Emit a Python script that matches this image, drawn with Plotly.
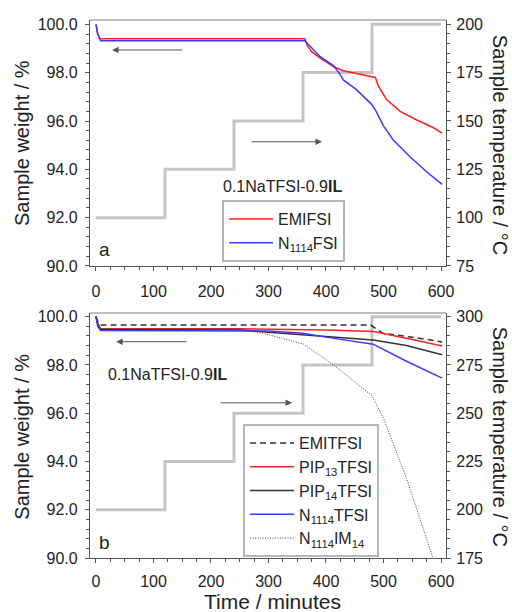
import plotly.graph_objects as go

FONT = "Liberation Sans, Arial, sans-serif"

# ---- data: panel a ----
t_temp = [0, 120, 240, 360, 480, 600]
temp_a = [100, 125, 150, 175, 200, 200]
temp_b = [200, 225, 250, 275, 300, 300]

t_emifsi = [0, 3, 7, 363, 368, 375, 390, 413, 430, 459, 481, 486, 491, 505, 529, 558, 587, 602]
w_emifsi = [100.0, 99.6, 99.4, 99.4, 99.1, 98.87, 98.6, 98.25, 98.08, 97.94, 97.83, 97.8, 97.45, 96.9, 96.4, 96.04, 95.72, 95.5]

t_n1114fsi = [0, 3, 8, 363, 390, 413, 424, 430, 453, 479, 486, 500, 517, 546, 575, 602]
w_n1114fsi = [100.0, 99.6, 99.32, 99.32, 98.66, 98.29, 97.95, 97.7, 97.3, 96.7, 96.45, 95.8, 95.21, 94.52, 93.9, 93.38]

# ---- data: panel b ----
t_emitfsi = [0, 3, 7, 478, 490, 500, 550, 602]
w_emitfsi = [100.0, 99.8, 99.65, 99.65, 99.45, 99.3, 99.15, 98.95]

t_pip13 = [0, 3, 8, 250, 400, 482, 540, 602]
w_pip13 = [100.0, 99.7, 99.5, 99.5, 99.45, 99.38, 99.1, 98.78]

t_pip14 = [0, 3, 8, 250, 300, 360, 400, 482, 540, 602]
w_pip14 = [100.0, 99.7, 99.47, 99.45, 99.35, 99.24, 99.15, 99.03, 98.8, 98.42]

t_n1114tfsi = [0, 3, 8, 250, 300, 360, 400, 482, 540, 602]
w_n1114tfsi = [100.0, 99.6, 99.42, 99.42, 99.4, 99.31, 99.15, 98.86, 98.15, 97.45]

t_n1114im14 = [0, 3, 8, 250, 297, 361, 413, 480, 500, 540, 586, 600]
w_n1114im14 = [100.0, 99.7, 99.5, 99.5, 99.27, 98.86, 98.0, 96.72, 95.79, 93.3, 90.0, 89.2]

GRAY_T = "#c4c4c4"
fig = go.Figure()

# temperature (base axes, drawn below)
fig.add_trace(go.Scatter(x=t_temp, y=temp_a, xaxis="x", yaxis="y", mode="lines",
                         line=dict(color=GRAY_T, width=3, shape="hv"), showlegend=False))
fig.add_trace(go.Scatter(x=t_temp, y=temp_b, xaxis="x2", yaxis="y3", mode="lines",
                         line=dict(color=GRAY_T, width=3, shape="hv"), showlegend=False))

# weight panel a
fig.add_trace(go.Scatter(x=t_emifsi, y=w_emifsi, xaxis="x", yaxis="y2", mode="lines",
                         name="EMIFSI", line=dict(color="#ff2020", width=1.5), legend="legend"))
fig.add_trace(go.Scatter(x=t_n1114fsi, y=w_n1114fsi, xaxis="x", yaxis="y2", mode="lines",
                         name="N<sub>1114</sub>FSI", line=dict(color="#3a3aff", width=1.5), legend="legend"))

# weight panel b
fig.add_trace(go.Scatter(x=t_emitfsi, y=w_emitfsi, xaxis="x2", yaxis="y4", mode="lines",
                         name="EMITFSI", line=dict(color="#333333", width=1.5, dash="6px,4px"), legend="legend2"))
fig.add_trace(go.Scatter(x=t_pip13, y=w_pip13, xaxis="x2", yaxis="y4", mode="lines",
                         name="PIP<sub>13</sub>TFSI", line=dict(color="#ff2020", width=1.5), legend="legend2"))
fig.add_trace(go.Scatter(x=t_pip14, y=w_pip14, xaxis="x2", yaxis="y4", mode="lines",
                         name="PIP<sub>14</sub>TFSI", line=dict(color="#333333", width=1.5), legend="legend2"))
fig.add_trace(go.Scatter(x=t_n1114tfsi, y=w_n1114tfsi, xaxis="x2", yaxis="y4", mode="lines",
                         name="N<sub>1114</sub>TFSI", line=dict(color="#3a3aff", width=1.5), legend="legend2"))
fig.add_trace(go.Scatter(x=t_n1114im14, y=w_n1114im14, xaxis="x2", yaxis="y4", mode="lines",
                         name="N<sub>1114</sub>IM<sub>14</sub>", line=dict(color="#444444", width=1, dash="1px,1.5px"), legend="legend2"))

AX = "#555555"
tickfont = dict(family=FONT, size=16, color="#222222")

def xax(anchor, standoff):
    return dict(domain=[0, 1], anchor=anchor, range=[-10.4, 608.7], dtick=100, tick0=0,
                ticks="outside", ticklen=4, tickcolor=AX, showline=True, linecolor=AX, linewidth=1.2,
                showgrid=False, zeroline=False, tickfont=tickfont, ticklabelstandoff=standoff,
                minor=dict(dtick=25, ticks="outside", ticklen=2.5, tickcolor=AX))

def tempax(anchor, domain, rng):
    return dict(domain=domain, anchor=anchor, side="right", range=rng, dtick=25, tick0=0,
                ticks="outside", ticklen=4, tickcolor=AX, showline=True, linecolor=AX, linewidth=1.2,
                showgrid=False, zeroline=False, tickfont=tickfont, ticklabelstandoff=2,
                minor=dict(dtick=5, ticks="outside", ticklen=2.5, tickcolor=AX))

def wax(anchor, overlay, rng):
    return dict(overlaying=overlay, anchor=anchor, side="left", range=rng, dtick=2, tick0=0,
                tickformat=".1f", ticks="outside", ticklen=4, tickcolor=AX, showline=True,
                linecolor=AX, linewidth=1.2, showgrid=False, zeroline=False, tickfont=tickfont,
                ticklabelstandoff=4,
                minor=dict(dtick=0.4, ticks="outside", ticklen=2.5, tickcolor=AX))

TOP = [0.5428, 1.0]
BOT = [0.0, 0.4554]

fig.update_layout(
    width=512, height=612,
    margin=dict(l=90, r=66, t=20, b=54),
    paper_bgcolor="white", plot_bgcolor="white",
    font=dict(family=FONT, size=16, color="#222222"),
    xaxis=xax("y", 7),
    yaxis=tempax("x", TOP, [75, 202.2]),
    yaxis2=wax("x", "y", [90, 100.18]),
    xaxis2=xax("y3", 5),
    yaxis3=tempax("x2", BOT, [175, 301.9]),
    yaxis4=wax("x2", "y3", [90, 100.15]),
    legend=dict(x=0.371, y=0.6654, xanchor="left", yanchor="top", bgcolor="white",
                bordercolor="#b5b5b5", borderwidth=2, font=dict(family=FONT, size=16, color="#222222"),
                itemwidth=44, tracegroupgap=0),
    legend2=dict(x=0.43, y=0.249, xanchor="left", yanchor="top", bgcolor="white",
                 bordercolor="#b5b5b5", borderwidth=2, font=dict(family=FONT, size=16, color="#222222"),
                 itemwidth=44, tracegroupgap=0),
    showlegend=True,
)

# top frame lines
for yv in (TOP[1], BOT[1]):
    fig.add_shape(type="line", xref="paper", yref="paper", x0=0, x1=1, y0=yv, y1=yv,
                  line=dict(color="#a8a8a8", width=1.5))

ann = []
title_font = dict(family=FONT, size=20, color="#222222")
ann.append(dict(text="Sample weight / %", xref="paper", yref="paper", x=-0.191, y=0.7714,
                textangle=-90, showarrow=False, font=title_font, xanchor="center", yanchor="middle"))
ann.append(dict(text="Sample weight / %", xref="paper", yref="paper", x=-0.191, y=0.2255,
                textangle=-90, showarrow=False, font=title_font, xanchor="center", yanchor="middle"))
ann.append(dict(text="Sample temperature / °C", xref="paper", yref="paper", x=1.1517, y=0.768,
                textangle=90, showarrow=False, font=title_font, xanchor="center", yanchor="middle"))
ann.append(dict(text="Sample temperature / °C", xref="paper", yref="paper", x=1.1517, y=0.2255,
                textangle=90, showarrow=False, font=title_font, xanchor="center", yanchor="middle"))
ann.append(dict(text="Time / minutes", xref="paper", yref="paper", x=0.5126, y=-0.08,
                showarrow=False, font=dict(family=FONT, size=21, color="#222222"),
                xanchor="center", yanchor="middle"))

lab_font = dict(family=FONT, size=16, color="#222222")
ann.append(dict(text="0.1NaTFSI-0.9<b>IL</b>", xref="x", yref="y2", x=325, y=93.3,
                showarrow=False, font=lab_font, xanchor="center", yanchor="middle"))
ann.append(dict(text="0.1NaTFSI-0.9<b>IL</b>", xref="x2", yref="y4", x=124, y=97.6,
                showarrow=False, font=lab_font, xanchor="center", yanchor="middle"))
ann.append(dict(text="a", xref="x", yref="y2", x=14, y=90.7, showarrow=False,
                font=dict(family=FONT, size=19, color="#222222"), xanchor="center", yanchor="middle"))
ann.append(dict(text="b", xref="x2", yref="y4", x=14, y=90.65, showarrow=False,
                font=dict(family=FONT, size=19, color="#222222"), xanchor="center", yanchor="middle"))

def arrow(xr, yr, x0, x1, y):
    return dict(xref=xr, yref=yr, axref=xr, ayref=yr, x=x1, y=y, ax=x0, ay=y, text="",
                showarrow=True, arrowhead=2, arrowsize=1.3, arrowwidth=1, arrowcolor="#555555")

ann.append(arrow("x", "y2", 153, 28, 98.94))
ann.append(arrow("x", "y2", 268, 393, 95.14))
ann.append(arrow("x2", "y4", 160, 35, 98.96))
ann.append(arrow("x2", "y4", 214, 341, 96.43))

fig.update_layout(annotations=ann)

fig.write_html("out.html", config={"displayModeBar": False},
               post_script="document.body.style.margin='0px';")
